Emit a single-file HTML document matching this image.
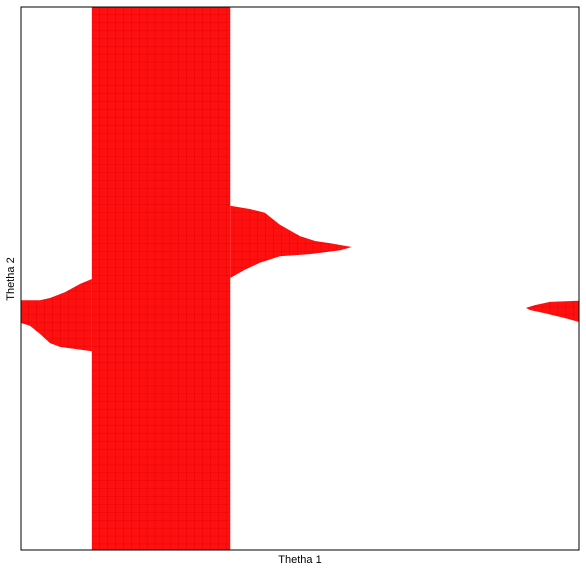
<!DOCTYPE html>
<html><head><meta charset="utf-8"><style>
body{margin:0;background:#fff;width:586px;height:572px;overflow:hidden;font-family:"Liberation Sans",sans-serif}
</style></head><body>
<svg width="586" height="572">
<defs>
<pattern id="grid" x="21" y="7" width="7.9" height="7.9" patternUnits="userSpaceOnUse">
<rect width="7.9" height="7.9" fill="#ff1010"/>
<path d="M7.9 0V7.9M0 7.9H7.9" stroke="#e00000" stroke-width="0.8" fill="none"/>
</pattern>
</defs>
<g id="marks"></g>
<rect x="21" y="7" width="558" height="543" fill="none" stroke="#000" stroke-width="1"/>
<text x="300" y="563" font-size="11" text-anchor="middle">Thetha 1</text>
<text x="14" y="279" font-size="11" text-anchor="middle" transform="rotate(-90 14 279)">Thetha 2</text>
</svg>
<script>
const band = [12.7, 37.5];
const leftTop = [[0,46.0],[3.4,46.0],[5.2,46.4],[7.9,47.5],[10.6,49.0],[12.7,49.9]];
const leftBottom = [[12.7,36.6],[7.0,37.4],[5.2,38.1],[3.4,39.8],[1.6,41.3],[0,41.8]];
const midTop = [[37.5,63.4],[41.0,62.8],[43.7,62.1],[46.4,59.9],[50.0,57.8],[52.7,56.9],[55.4,56.5],[59.3,55.8]];
const midBottom = [[57.2,55.2],[51.8,54.5],[46.4,54.1],[42.8,52.9],[40.1,51.6],[37.5,50.1]];
const rightTop = [[90.5,44.6],[92.1,45.1],[94.8,45.7],[100,45.9]];
const rightBottom = [[100,42.0],[97.5,42.7],[93.9,43.6],[91.2,44.2]];
const X0=21,X1=579,Y0=550,Y1=7;
function sx(v){return X0+(X1-X0)*v/100;}
function sy(v){return Y0-(Y0-Y1)*v/100;}
const g=document.getElementById('marks');
const NS='http://www.w3.org/2000/svg';
function poly(pts,name){
  const p=document.createElementNS(NS,'polygon');
  p.setAttribute('points',pts.map(d=>sx(d[0])+','+sy(d[1])).join(' '));
  p.setAttribute('fill','url(#grid)');
  
  
  g.appendChild(p);
}
poly(leftTop.concat(leftBottom),'region-left-lobe');
poly(midTop.concat(midBottom),'region-middle-lobe');
poly(rightTop.concat(rightBottom),'region-right-lobe');
const r=document.createElementNS(NS,'rect');
r.setAttribute('x',sx(band[0]));r.setAttribute('y',sy(100));
r.setAttribute('width',sx(band[1])-sx(band[0]));r.setAttribute('height',sy(0)-sy(100));
r.setAttribute('fill','url(#grid)');


g.appendChild(r);
</script>
</body></html>
